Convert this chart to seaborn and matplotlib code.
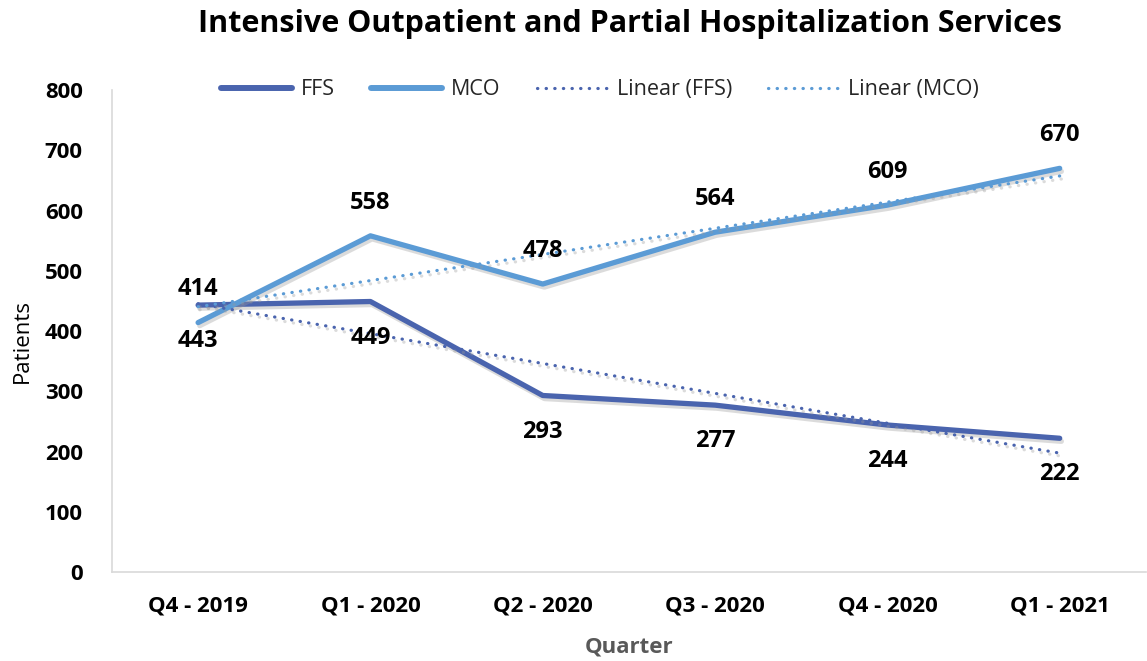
import matplotlib
matplotlib.use("Agg")
import matplotlib.pyplot as plt
import matplotlib.patheffects as pe
from matplotlib.lines import Line2D
import numpy as np
import pandas as pd
import seaborn as sns

quarters = ["Q4 - 2019", "Q1 - 2020", "Q2 - 2020", "Q3 - 2020", "Q4 - 2020", "Q1 - 2021"]
ffs = [443, 449, 293, 277, 244, 222]
mco = [414, 558, 478, 564, 609, 670]

FFS_COLOR = "#4A64AE"
MCO_COLOR = "#5B9BD5"
DOTS = (0, (0.1, 2.6))

sns.set_theme(style="white")
plt.rcParams["font.family"] = ["Open Sans", "DejaVu Sans"]

df = pd.DataFrame({
    "Quarter": quarters * 2,
    "x": list(range(len(quarters))) * 2,
    "Patients": ffs + mco,
    "Series": ["FFS"] * len(ffs) + ["MCO"] * len(mco),
})

fig = plt.figure(figsize=(11.47, 6.61), dpi=100)
ax = fig.add_axes([0.0976, 0.1346, 0.9014, 0.7292])

shadow = [pe.SimpleLineShadow(offset=(1.2, -2.2), shadow_color="#9a9a9a", alpha=0.35), pe.Normal()]

sns.lineplot(data=df, x="x", y="Patients", hue="Series",
             palette={"FFS": FFS_COLOR, "MCO": MCO_COLOR},
             linewidth=3.8, ax=ax, legend=False, sort=False)
for line in ax.get_lines():
    line.set_path_effects(shadow)
    line.set_solid_capstyle("round")

# linear trendlines (least squares fit, as Excel does)
xs = np.arange(len(quarters))
for vals, color in [(ffs, FFS_COLOR), (mco, MCO_COLOR)]:
    k, b = np.polyfit(xs, vals, 1)
    ax.plot(xs, k * xs + b, color=color, linewidth=2.3, linestyle=DOTS,
            dash_capstyle="round", path_effects=shadow)

# data labels: FFS below, MCO above
for i, v in enumerate(ffs):
    ax.annotate(str(v), (i, v), xytext=(0, -26), textcoords="offset points",
                ha="center", va="center", fontsize=17, fontweight="bold", color="black")
for i, v in enumerate(mco):
    ax.annotate(str(v), (i, v), xytext=(0, 24), textcoords="offset points",
                ha="center", va="center", fontsize=17, fontweight="bold", color="black")

ax.set_xlim(-0.5, 5.5)
ax.set_ylim(0, 800)
ax.set_yticks(range(0, 801, 100))
ax.set_xticks(xs)
ax.set_xticklabels(quarters)
ax.tick_params(axis="both", length=0, labelsize=16)
ax.tick_params(axis="y", pad=21)
ax.tick_params(axis="x", pad=17)
for lab in ax.get_xticklabels() + ax.get_yticklabels():
    lab.set_fontweight("bold")
    lab.set_color("black")

for side in ["top", "right"]:
    ax.spines[side].set_visible(False)
for side in ["left", "bottom"]:
    ax.spines[side].set_color("#D9D9D9")
    ax.spines[side].set_linewidth(1.2)

ax.set_xlabel("Quarter", fontsize=16, fontweight="bold", color="#595959")
ax.xaxis.label.set_va("center")
ax.xaxis.set_label_coords(0.5, -0.156)
ax.set_ylabel("Patients", fontsize=16, color="black")
ax.yaxis.label.set_va("center")
ax.yaxis.set_label_coords(-0.087, 0.48)

fig.suptitle("Intensive Outpatient and Partial Hospitalization Services",
             x=0.549, y=0.963, fontsize=22, fontweight="bold", va="center", color="black")

handles = [
    Line2D([], [], color=FFS_COLOR, linewidth=4.3, solid_capstyle="round"),
    Line2D([], [], color=MCO_COLOR, linewidth=4.3, solid_capstyle="round"),
    Line2D([], [], color=FFS_COLOR, linewidth=2.3, linestyle=DOTS, dash_capstyle="round"),
    Line2D([], [], color=MCO_COLOR, linewidth=2.3, linestyle=DOTS, dash_capstyle="round"),
]
fig.legend(handles, ["FFS", "MCO", "Linear (FFS)", "Linear (MCO)"],
           loc="center", bbox_to_anchor=(0.523, 0.864), ncol=4, frameon=False,
           fontsize=15.5, handlelength=3.3, columnspacing=1.7, handletextpad=0.4)

fig.savefig("out.png", dpi=100)
